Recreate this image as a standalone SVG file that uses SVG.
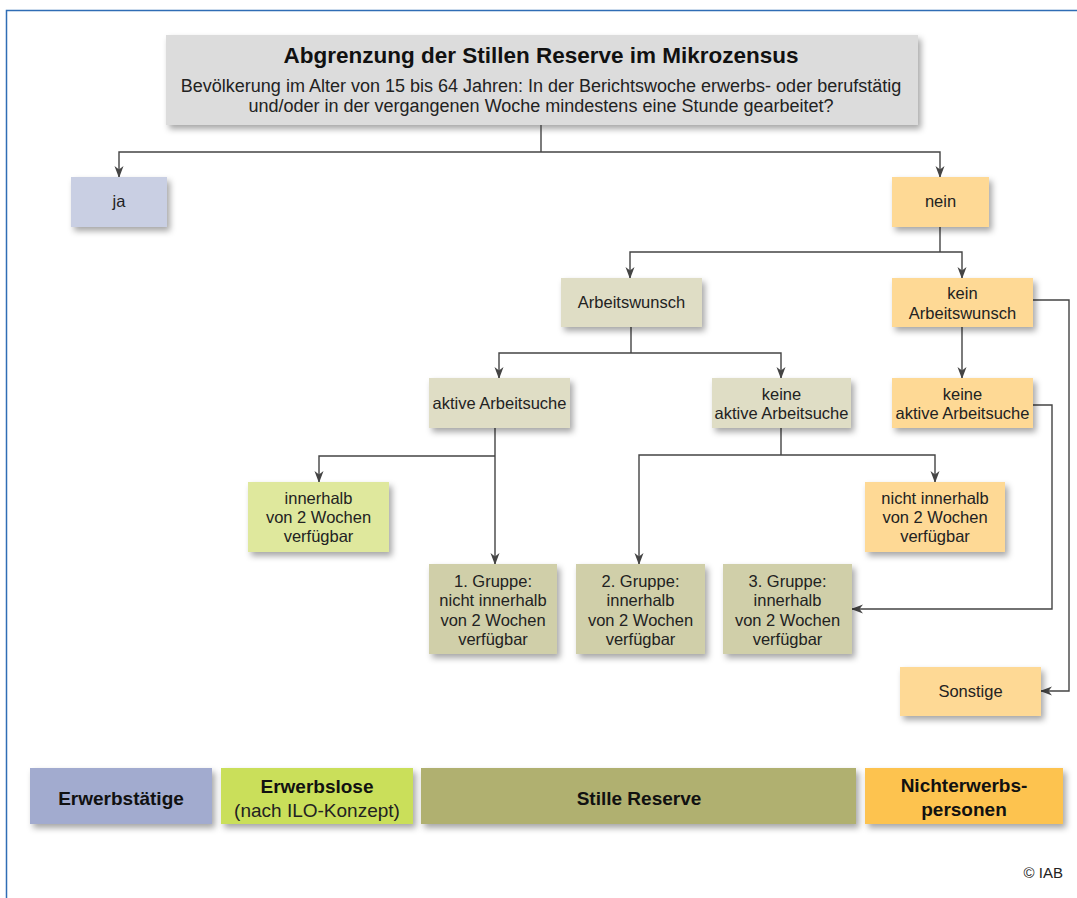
<svg xmlns="http://www.w3.org/2000/svg" width="1077" height="898" viewBox="0 0 1077 898">
<defs>
<filter id="sh" x="-10%" y="-20%" width="130%" height="160%">
<feDropShadow dx="3" dy="4" stdDeviation="3" flood-color="#000" flood-opacity="0.35"/>
</filter>
<marker id="ar" markerUnits="userSpaceOnUse" markerWidth="12" markerHeight="12" viewBox="0 0 12 10" refX="11" refY="5" orient="auto">
<path d="M0,0.5 L12,5 L0,9.5 L3.5,5 z" fill="#444"/>
</marker>
<style>
text{font-family:"Liberation Sans",Arial,sans-serif;fill:#222;text-anchor:middle}
.t{font-size:16.5px}
.lg{font-size:19px;font-weight:bold;fill:#111}
.lr{font-size:19px;fill:#222}
.box{filter:url(#sh)}
.con path{fill:none;stroke:#444;stroke-width:1.4}
.grey{fill:#dcdcdc}
.blue{fill:#c9cfe3}
.org{fill:#fed995}
.kh{fill:#dfddc5}
.grn{fill:#dfe89d}
.gr{fill:#d0cfa9}
</style>
</defs>
<rect width="1077" height="898" fill="#fff"/>
<path d="M6.5,898 V10.5 H1077" fill="none" stroke="#2f6db5" stroke-width="1.5"/>

<g id="title">
<rect class="box grey" x="166" y="35" width="752" height="90"/>
<text x="541" y="63" style="font-size:22.5px;font-weight:bold;fill:#111">Abgrenzung der Stillen Reserve im Mikrozensus</text>
<text x="541" y="92" style="font-size:18px">Bevölkerung im Alter von 15 bis 64 Jahren: In der Berichtswoche erwerbs- oder berufstätig</text>
<text x="541" y="112" style="font-size:18px">und/oder in der vergangenen Woche mindestens eine Stunde gearbeitet?</text>
</g>

<g class="con" id="connectors">
<path d="M541,125 V152"/>
<path d="M541,152 H119 V177" marker-end="url(#ar)"/>
<path d="M541,152 H940 V177" marker-end="url(#ar)"/>
<path d="M940,227 V252"/>
<path d="M940,252 H630 V278" marker-end="url(#ar)"/>
<path d="M940,252 H962 V278" marker-end="url(#ar)"/>
<path d="M631,327 V353"/>
<path d="M631,353 H499 V378" marker-end="url(#ar)"/>
<path d="M631,353 H781 V378" marker-end="url(#ar)"/>
<path d="M962,327 V378" marker-end="url(#ar)"/>
<path d="M495,428 V564" marker-end="url(#ar)"/>
<path d="M495,456 H319 V482" marker-end="url(#ar)"/>
<path d="M781,428 V455"/>
<path d="M781,455 H639 V564" marker-end="url(#ar)"/>
<path d="M781,455 H935 V482" marker-end="url(#ar)"/>
<path d="M1033,405 H1052 V609 H852" marker-end="url(#ar)"/>
<path d="M1033,300 H1069 V691 H1041" marker-end="url(#ar)"/>
</g>

<g id="ja"><rect class="box blue" x="71" y="177" width="96" height="50"/><text class="t" x="119" y="207">ja</text></g>
<g id="nein"><rect class="box org" x="892" y="177" width="97" height="50"/><text class="t" x="940.5" y="207">nein</text></g>
<g id="arbeitswunsch"><rect class="box kh" x="561" y="278" width="141" height="49"/><text class="t" x="631.5" y="308">Arbeitswunsch</text></g>
<g id="kein-arbeitswunsch"><rect class="box org" x="892" y="278" width="141" height="49"/><text class="t" x="962.5" y="299">kein</text><text class="t" x="962.5" y="319">Arbeitswunsch</text></g>
<g id="aktive-arbeitsuche"><rect class="box kh" x="429" y="378" width="141" height="50"/><text class="t" x="499.5" y="409">aktive Arbeitsuche</text></g>
<g id="keine-aktive-1"><rect class="box kh" x="712" y="378" width="139" height="50"/><text class="t" x="781.5" y="400">keine</text><text class="t" x="781.5" y="419">aktive Arbeitsuche</text></g>
<g id="keine-aktive-2"><rect class="box org" x="892" y="378" width="141" height="50"/><text class="t" x="962.5" y="400">keine</text><text class="t" x="962.5" y="419">aktive Arbeitsuche</text></g>
<g id="innerhalb"><rect class="box grn" x="248" y="482" width="141" height="70"/><text class="t" x="318.5" y="504">innerhalb</text><text class="t" x="318.5" y="523">von 2 Wochen</text><text class="t" x="318.5" y="542">verfügbar</text></g>
<g id="nicht-innerhalb"><rect class="box org" x="865" y="482" width="140" height="70"/><text class="t" x="935" y="504">nicht innerhalb</text><text class="t" x="935" y="523">von 2 Wochen</text><text class="t" x="935" y="542">verfügbar</text></g>
<g id="gruppe1"><rect class="box gr" x="429" y="564" width="128" height="90"/><text class="t" x="493" y="587">1. Gruppe:</text><text class="t" x="493" y="606">nicht innerhalb</text><text class="t" x="493" y="626">von 2 Wochen</text><text class="t" x="493" y="645">verfügbar</text></g>
<g id="gruppe2"><rect class="box gr" x="576" y="564" width="129" height="90"/><text class="t" x="640.5" y="587">2. Gruppe:</text><text class="t" x="640.5" y="606">innerhalb</text><text class="t" x="640.5" y="626">von 2 Wochen</text><text class="t" x="640.5" y="645">verfügbar</text></g>
<g id="gruppe3"><rect class="box gr" x="723" y="564" width="129" height="90"/><text class="t" x="787.5" y="587">3. Gruppe:</text><text class="t" x="787.5" y="606">innerhalb</text><text class="t" x="787.5" y="626">von 2 Wochen</text><text class="t" x="787.5" y="645">verfügbar</text></g>
<g id="sonstige"><rect class="box org" x="900" y="667" width="141" height="49"/><text class="t" x="970.5" y="697">Sonstige</text></g>

<g id="legend-erwerbstaetige"><rect class="box" x="30" y="768" width="182" height="56" fill="#a2abcf"/><text class="lg" x="121" y="805">Erwerbstätige</text></g>
<g id="legend-erwerbslose"><rect class="box" x="221" y="768" width="192" height="56" fill="#cadf5a"/><text class="lg" x="317" y="793">Erwerbslose</text><text class="lr" x="317" y="817">(nach ILO-Konzept)</text></g>
<g id="legend-stille"><rect class="box" x="421" y="768" width="435" height="56" fill="#b0b06f"/><text class="lg" x="639" y="805">Stille Reserve</text></g>
<g id="legend-nichterwerb"><rect class="box" x="865" y="768" width="198" height="56" fill="#fdc34f"/><text class="lg" x="964" y="792">Nichterwerbs-</text><text class="lg" x="964" y="816">personen</text></g>

<text x="1063" y="878" style="font-size:15px;text-anchor:end;fill:#222">© IAB</text>
</svg>
